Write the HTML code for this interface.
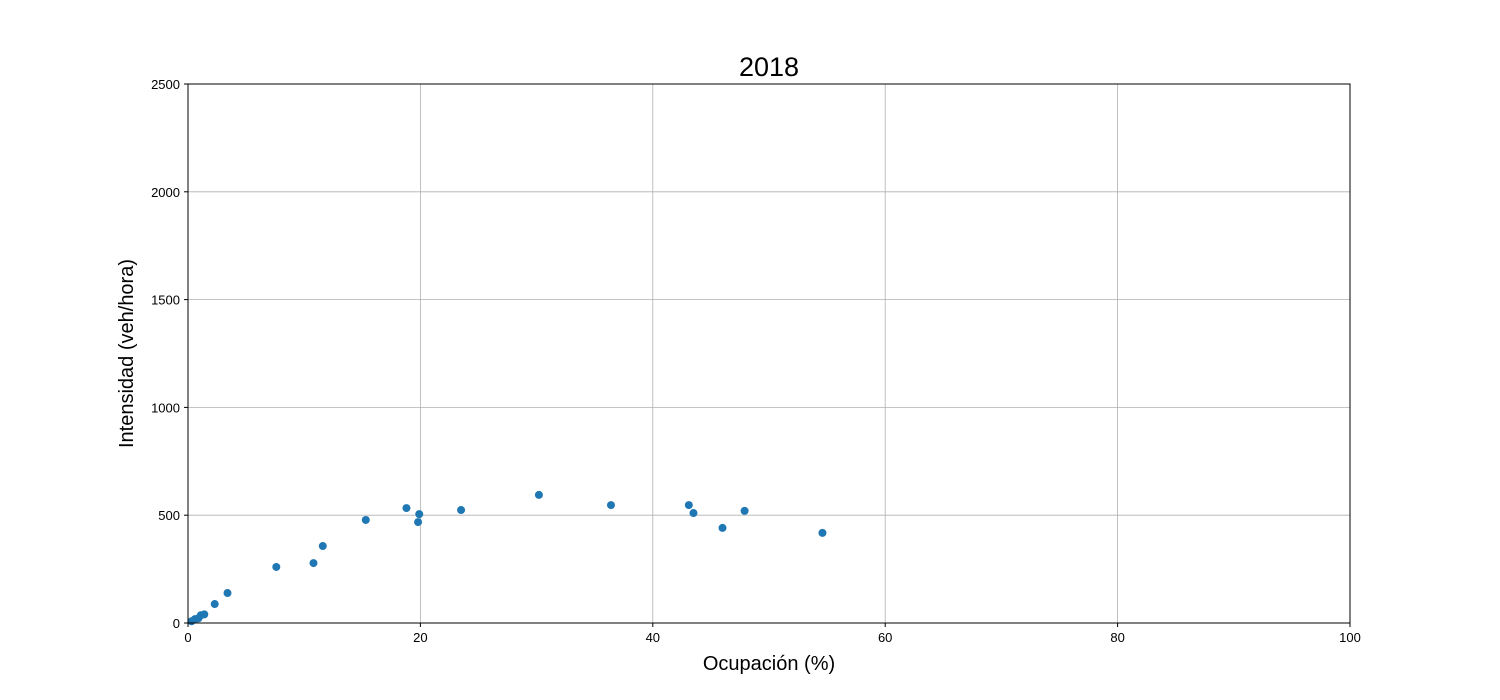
<!DOCTYPE html>
<html><head><meta charset="utf-8"><style>
body{margin:0;background:#fff;}
svg{display:block;font-family:"Liberation Sans","DejaVu Sans",sans-serif;}
</style></head><body>
<svg id="chart" width="1500" height="700"></svg>
<script>
const xValues=[0.3,0.6,0.9,1.1,1.4,2.3,3.4,7.6,10.8,11.6,15.3,18.8,19.8,19.9,23.5,30.2,36.4,43.1,43.5,46.0,47.9,54.6];
const yValues=[8,18,22,36,40,88,139,260,278,357,478,533,468,505,524,594,547,547,510,441,520,418];
const xTicks=[0,20,40,60,80,100];
const yTicks=[0,500,1000,1500,2000,2500];
const NS="http://www.w3.org/2000/svg";
const svg=document.getElementById('chart');
const L=188,R=1350,T=84,B=623;
const sx=v=>L+(v-0)/(100-0)*(R-L);
const sy=v=>B-(v-0)/(2500-0)*(B-T);
function mk(tag,attrs,parent){const e=document.createElementNS(NS,tag);for(const k in attrs)e.setAttribute(k,attrs[k]);(parent||svg).appendChild(e);return e;}
const grid=mk('g',{});


xTicks.forEach(t=>{
 const l=mk('line',{x1:sx(t),x2:sx(t),y1:T,y2:B,stroke:'#b0b0b0','stroke-width':0.8},grid);
 
 
 mk('line',{x1:sx(t),x2:sx(t),y1:B,y2:B+4,stroke:'#000'});
 const tx=mk('text',{x:sx(t),y:B+19,'text-anchor':'middle','font-size':13});
 tx.textContent=t;
 
 
});
yTicks.forEach(t=>{
 const l=mk('line',{x1:L,x2:R,y1:sy(t),y2:sy(t),stroke:'#b0b0b0','stroke-width':0.8},grid);
 
 
 mk('line',{x1:L-4,x2:L,y1:sy(t),y2:sy(t),stroke:'#000'});
 const tx=mk('text',{x:L-8,y:sy(t)+5,'text-anchor':'end','font-size':13});
 tx.textContent=t;
 
 
});
const pts=mk('g',{});


xValues.forEach((x,i)=>{
 const c=mk('circle',{cx:sx(x),cy:sy(yValues[i]),r:4,fill:'#1f77b4'},pts);
 
 
});
const fr=mk('rect',{x:L,y:T,width:R-L,height:B-T,fill:'none',stroke:'#000','stroke-width':1});


const ti=mk('text',{x:(L+R)/2,y:76,'text-anchor':'middle','font-size':27});
ti.textContent='2018';


const xl=mk('text',{x:(L+R)/2,y:670,'text-anchor':'middle','font-size':20});
xl.textContent='Ocupación (%)';


const yl=mk('text',{x:0,y:0,'text-anchor':'middle','font-size':20,transform:`translate(133,${(T+B)/2}) rotate(-90)`});
yl.textContent='Intensidad (veh/hora)';


</script>
</body></html>
